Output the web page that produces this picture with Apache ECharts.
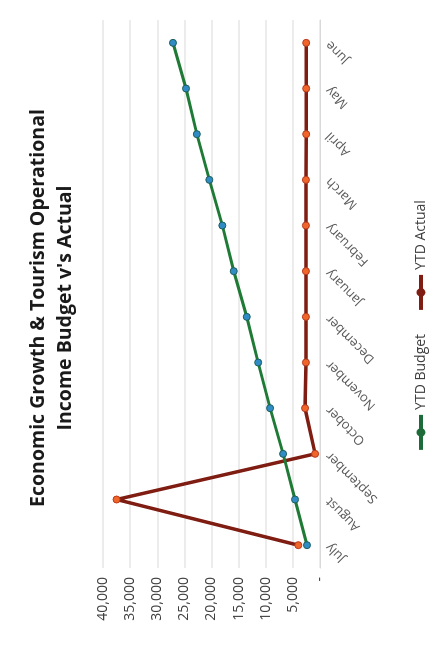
<!DOCTYPE html>
<html>
<head>
<meta charset="utf-8">
<script src="https://cdn.jsdelivr.net/npm/echarts@6/dist/echarts.min.js"></script>
<style>
  html, body { margin: 0; padding: 0; width: 445px; height: 652px; overflow: hidden; background: #ffffff; }
  #chart { position: absolute; left: 0; top: 0; width: 652px; height: 445px;
           transform-origin: 0 0; transform: translate(0, 652px) rotate(-90deg); }
</style>
</head>
<body>
<div id="chart"></div>
<script>
const titleText = "Economic Growth & Tourism Operational\nIncome Budget v's Actual";
const months = ["July", "August", "September", "October", "November", "December",
                "January", "February", "March", "April", "May", "June"];
const ytdBudget = [2400, 4600, 6800, 9200, 11400, 13500, 15900, 18000, 20400, 22700, 24700, 27100];
const ytdActual = [4000, 37500, 900, 2750, 2600, 2600, 2600, 2600, 2600, 2550, 2550, 2550];
const valueTicks = [0, 5000, 10000, 15000, 20000, 25000, 30000, 35000, 40000];

const chart = echarts.init(document.getElementById('chart'), null, { width: 652, height: 445 });
const font = "'Open Sans', 'Noto Sans', sans-serif";

chart.setOption({
  backgroundColor: '#ffffff',
  animation: false,
  title: {
    text: titleText,
    left: 339,
    top: 20,
    textAlign: 'center',
    textStyle: { fontFamily: font, fontSize: 19.5, fontWeight: 'bold', color: '#1a1a1a', lineHeight: 27 }
  },
  legend: {
    bottom: 12,
    left: 'center',
    itemWidth: 35,
    itemHeight: 11,
    itemGap: 22,
    textStyle: { fontFamily: font, fontSize: 14, color: '#404040' },
    data: [
      { name: 'YTD Budget', itemStyle: { color: '#1e6b3a', borderWidth: 0 }, lineStyle: { color: '#1e6b3a', width: 4 } },
      { name: 'YTD Actual', itemStyle: { color: '#7f1d12', borderWidth: 0 }, lineStyle: { color: '#7f1d12', width: 4 } }
    ]
  },
  grid: { left: 84, right: 20, top: 103, bottom: 125, containLabel: false },
  xAxis: {
    type: 'category',
    data: months,
    boundaryGap: true,
    axisLine: { show: true, lineStyle: { color: '#d9d9d9', width: 1 } },
    axisTick: { show: false },
    axisLabel: { rotate: 45, margin: 8, fontFamily: font, fontSize: 13, color: '#595959' }
  },
  yAxis: {
    type: 'value',
    min: valueTicks[0],
    max: valueTicks[valueTicks.length - 1],
    interval: 5000,
    axisLine: { show: false },
    axisTick: { show: false },
    splitLine: { lineStyle: { color: '#e6e6e6', width: 1.5 } },
    axisLabel: {
      margin: 9,
      fontFamily: font, fontSize: 14, color: '#404040',
      formatter: v => v === 0 ? '-' : v.toLocaleString('en-US')
    }
  },
  series: [
    {
      name: 'YTD Budget',
      type: 'line',
      data: ytdBudget,
      symbol: 'circle',
      symbolSize: 7,
      lineStyle: { color: '#1e7a35', width: 3 },
      itemStyle: { color: '#2f8cc4', borderColor: '#1c5e5a', borderWidth: 1 },
      z: 3
    },
    {
      name: 'YTD Actual',
      type: 'line',
      data: ytdActual,
      symbol: 'circle',
      symbolSize: 7,
      lineStyle: { color: '#7f1d12', width: 3.5 },
      itemStyle: { color: '#f0662a', borderColor: '#b8381c', borderWidth: 1 },
      z: 2
    }
  ]
});
</script>
</body>
</html>
